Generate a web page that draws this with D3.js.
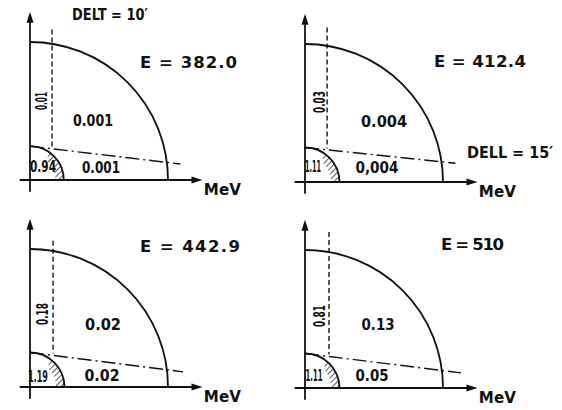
<!DOCTYPE html>
<html><head><meta charset="utf-8">
<script src="https://cdn.jsdelivr.net/npm/d3@7"></script>
<style>
html,body{margin:0;padding:0;background:#fff;}
svg text{font-family:"DejaVu Sans","Liberation Sans",sans-serif;fill:#111;font-weight:bold;}
</style>
</head><body>
<div id="chart"></div>
<script>
// ---- data ----
const energies = ["382.0", "412.4", "442.9", "510"];
const innerRatios = ["0.94", "1.11", "1.19", "1.11"];
const dashedRatios = ["0.01", "0.03", "0.18", "0.81"];
const outerRatios = ["0.001", "0.004", "0.02", "0.13"];
const bandRatios = ["0.001", "0,004", "0.02", "0.05"];
const bigRadius = [1.0, 1.0, 1.0, 1.0];
const smallRadius = [0.245, 0.25, 0.25, 0.25];
const dashedX = [0.16, 0.16, 0.167, 0.174];
const dashedTop = [1.09, 1.12, 1.06, 1.13];
const dashDotEndX = [1.09, 1.09, 1.11, 1.13];
const dashDotEndY = [0.116, 0.136, 0.11, 0.11];
const notes = ["DELT = 10\u2032", "DELL = 15\u2032"];

// ---- layout ----
const W = 562, H = 410;
const origins = [[30, 180], [305, 182], [30, 387], [305, 388]];
const unitPx = 138;
const eLabelPos = [[140, 68], [434, 67], [140, 252], [441, 250]];
const eLabelW = [97, 92, 100, 63];
const upperPos = [[93, 126], [384, 127], [103, 330], [378, 330]];
const upperW = [40, 46, 36, 33];
const lowerPos = [[101, 173], [377, 173], [102, 381], [372, 381]];
const lowerW = [38, 43, 35, 33];
const innerPos = [[43, 172], [313, 172], [38, 382], [314, 381]];
const innerW = [26, 16, 20, 17];
const vertPos = [[41, 101], [319, 102], [42, 314], [319, 316]];
const vertW = [18, 22, 22, 22];

const svg = d3.select("#chart").append("svg").attr("width", W).attr("height", H);
const defs = svg.append("defs");
const pat = defs.append("pattern").attr("id", "hatch").attr("patternUnits", "userSpaceOnUse")
  .attr("width", 4).attr("height", 4).attr("patternTransform", "rotate(45)");
pat.append("line").attr("x1", 0).attr("y1", 0).attr("x2", 0).attr("y2", 4)
  .attr("stroke", "#111").attr("stroke-width", 1.4);

energies.forEach((E, i) => {
  const [ox, oy] = origins[i];
  const x = d3.scaleLinear().domain([0, 1]).range([ox, ox + unitPx]);
  const y = d3.scaleLinear().domain([0, 1]).range([oy, oy - unitPx]);
  const g = svg.append("g");
  const ink = "#111";

  // axes
  g.append("line").attr("x1", x(-0.075)).attr("x2", x(1.22)).attr("y1", y(0)).attr("y2", y(0))
    .attr("stroke", ink).attr("stroke-width", 1.8);
  g.append("line").attr("x1", x(0)).attr("x2", x(0)).attr("y1", y(-0.085)).attr("y2", y(1.17))
    .attr("stroke", ink).attr("stroke-width", 1.8);
  // arrowheads
  const xt = x(1.25), yt = y(1.22);
  g.append("path").attr("d", `M${xt},${y(0)} L${xt - 11},${y(0) - 3.5} L${xt - 11},${y(0) + 3.5} Z`).attr("fill", ink);
  g.append("path").attr("d", `M${x(0)},${yt} L${x(0) - 3.5},${yt + 11} L${x(0) + 3.5},${yt + 11} Z`).attr("fill", ink);

  // big quarter circle
  const R = x(bigRadius[i]) - x(0);
  const p = d3.path();
  p.moveTo(x(0), y(0) - R);
  p.arc(x(0), y(0), R, -Math.PI / 2, 0);
  g.append("path").attr("d", p.toString()).attr("fill", "none").attr("stroke", ink).attr("stroke-width", 1.8);

  // small quarter circle
  const r = x(smallRadius[i]) - x(0);
  // hatched crescent
  const a0 = -Math.acos(Math.min(1, (x(dashedX[i]) - x(0)) / r)) - 0.15;
  const hp = d3.path();
  hp.moveTo(x(0) + r * Math.cos(a0), y(0) + r * Math.sin(a0));
  hp.arc(x(0), y(0), r, a0, 0);
  hp.lineTo(x(0) + r * 0.76, y(0));
  hp.arc(x(0), y(0), r * 0.76, 0, a0 + 0.2, true);
  hp.closePath();
  g.append("path").attr("d", hp.toString()).attr("fill", "url(#hatch)").attr("stroke", "none");

  const sp = d3.path();
  sp.moveTo(x(0), y(0) - r);
  sp.arc(x(0), y(0), r, -Math.PI / 2, 0);
  g.append("path").attr("d", sp.toString()).attr("fill", "none").attr("stroke", ink).attr("stroke-width", 1.8);

  // dashed vertical line
  g.append("line").attr("x1", x(dashedX[i])).attr("x2", x(dashedX[i]))
    .attr("y1", y(dashedTop[i])).attr("y2", y(smallRadius[i]) + 1)
    .attr("stroke", ink).attr("stroke-width", 1.4).attr("stroke-dasharray", "5,3");

  // dash-dot line
  g.append("line").attr("x1", x(0)).attr("y1", y(smallRadius[i]))
    .attr("x2", x(dashDotEndX[i])).attr("y2", y(dashDotEndY[i]))
    .attr("stroke", ink).attr("stroke-width", 1.4).attr("stroke-dasharray", "14,4,2,4");

  // texts
  g.append("text").attr("x", eLabelPos[i][0]).attr("y", eLabelPos[i][1])
    .attr("font-size", 16.5).attr("textLength", eLabelW[i]).attr("lengthAdjust", "spacing").text("E = " + E);
  g.append("text").attr("x", upperPos[i][0] - upperW[i] / 2).attr("y", upperPos[i][1])
    .attr("font-size", 15).attr("textLength", upperW[i]).attr("lengthAdjust", "spacingAndGlyphs").text(outerRatios[i]);
  g.append("text").attr("x", lowerPos[i][0] - lowerW[i] / 2).attr("y", lowerPos[i][1])
    .attr("font-size", 15).attr("textLength", lowerW[i]).attr("lengthAdjust", "spacingAndGlyphs").text(bandRatios[i]);
  g.append("text").attr("x", innerPos[i][0] - innerW[i] / 2).attr("y", innerPos[i][1])
    .attr("font-size", 15).attr("textLength", innerW[i]).attr("lengthAdjust", "spacingAndGlyphs").text(innerRatios[i]);
  g.append("text").attr("transform", `translate(${vertPos[i][0] + 6},${vertPos[i][1] + vertW[i] / 2}) rotate(-90)`)
    .attr("font-size", 16).attr("textLength", vertW[i]).attr("lengthAdjust", "spacingAndGlyphs").text(dashedRatios[i]);
  g.append("text").attr("x", x(1.26)).attr("y", y(0) + 15)
    .attr("font-size", 15).attr("textLength", 37).attr("lengthAdjust", "spacingAndGlyphs").text("MeV");
});

// notes
svg.append("text").attr("x", 72).attr("y", 20).attr("font-size", 15)
  .attr("textLength", 76).attr("lengthAdjust", "spacingAndGlyphs").text(notes[0]);
svg.append("text").attr("x", 467).attr("y", 158).attr("font-size", 16)
  .attr("textLength", 86).attr("lengthAdjust", "spacingAndGlyphs").text(notes[1]);
</script>
</body></html>
